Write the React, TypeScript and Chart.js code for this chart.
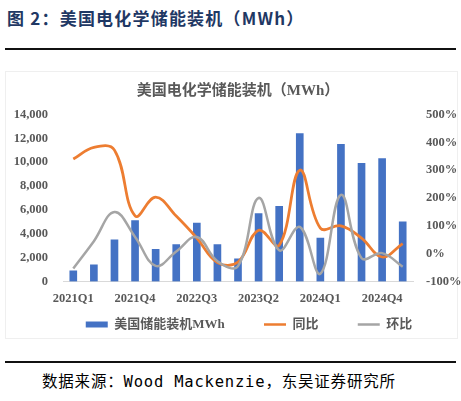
import React, { useEffect, useRef } from "react";
import { Chart, registerables } from "chart.js";

Chart.register(...registerables);

const categories = [
  "2021Q1", "2021Q2", "2021Q3", "2021Q4",
  "2022Q1", "2022Q2", "2022Q3", "2022Q4",
  "2023Q1", "2023Q2", "2023Q3", "2023Q4",
  "2024Q1", "2024Q2", "2024Q3", "2024Q4",
  "2025Q1",
];
const installs = [900, 1400, 3500, 5100, 2700, 3100, 4900, 3100, 1900, 5700, 6300, 12400, 3650, 11500, 9900, 10300, 5000];
const yoy = [340, 382, 372, 136, 203, 135, 56, -32, -30, 84, 30, 300, 92, 100, 56, -12, 36];
const qoq = [-53, 45, 150, 60, -44, 8, 60, -27, -45, 200, 12, 96, -72, 211, -16, 2, -47];
const leftTicks = { min: 0, max: 14000, step: 2000 };
const rightTicks = { min: -100, max: 500, step: 100 };
const seriesNames = ["美国储能装机MWh", "同比", "环比"];
const chartTitle = "美国电化学储能装机（MWh）";

const BLUE = "#4472C4";
const ORANGE = "#ED7D31";
const GRAY = "#A5A5A5";
const TEXT = "#595959";
const FONT = "'Liberation Serif', 'Times New Roman', 'Noto Sans CJK SC', serif";

function ChartBox() {
  const ref = useRef<HTMLCanvasElement | null>(null);
  useEffect(() => {
    if (!ref.current) return;
    const chart = new Chart(ref.current, {
      type: "bar",
      data: {
        labels: categories,
        datasets: [
          {
            type: "bar",
            label: seriesNames[0],
            data: installs,
            backgroundColor: BLUE,
            barThickness: 7,
            yAxisID: "y",
            order: 3,
          },
          {
            type: "line",
            label: seriesNames[1],
            data: yoy,
            borderColor: ORANGE,
            backgroundColor: ORANGE,
            borderWidth: 2.75,
            pointRadius: 0,
            tension: 0.4,
            yAxisID: "y1",
            order: 2,
          },
          {
            type: "line",
            label: seriesNames[2],
            data: qoq,
            borderColor: GRAY,
            backgroundColor: GRAY,
            borderWidth: 2.5,
            pointRadius: 0,
            tension: 0.4,
            yAxisID: "y1",
            order: 1,
          },
        ],
      } as any,
      options: {
        animation: false,
        responsive: true,
        maintainAspectRatio: false,
        layout: { padding: 0 },
        plugins: {
          tooltip: { enabled: false },
          title: {
            display: true,
            text: chartTitle,
            fullSize: false,
            color: TEXT,
            font: { family: FONT, size: 15, weight: "bold" },
            padding: { top: 11.5, bottom: 14 },
          },
          legend: {
            position: "bottom",
            labels: {
              usePointStyle: true,
              pointStyleWidth: 22,
              boxHeight: 6,
              padding: 10,
              color: TEXT,
              font: { family: FONT, size: 13, weight: "bold" },
              generateLabels: () => [
                {
                  text: seriesNames[0] + "\u3000\u3000 ",
                  fillStyle: BLUE,
                  strokeStyle: BLUE,
                  lineWidth: 0,
                  pointStyle: "rect",
                  hidden: false,
                  datasetIndex: 0,
                  fontColor: TEXT,
                },
                {
                  text: seriesNames[1] + "\u3000\u3000 ",
                  fillStyle: ORANGE,
                  strokeStyle: ORANGE,
                  lineWidth: 2.5,
                  pointStyle: "line",
                  hidden: false,
                  datasetIndex: 1,
                  fontColor: TEXT,
                },
                {
                  text: seriesNames[2],
                  fillStyle: GRAY,
                  strokeStyle: GRAY,
                  lineWidth: 2.5,
                  pointStyle: "line",
                  hidden: false,
                  datasetIndex: 2,
                  fontColor: TEXT,
                },
              ],
            },
          },
        },
        scales: {
          x: {
            grid: { display: false, drawTicks: false },
            border: { display: true, color: "#D9D9D9", width: 1 },
            ticks: {
              autoSkip: false,
              maxRotation: 0,
              minRotation: 0,
              padding: 9.5,
              color: TEXT,
              font: { family: FONT, size: 12.5, weight: "bold" },
              callback: (_v: any, i: number) => (i % 3 === 0 ? categories[i] : ""),
            },
            afterFit: (s: any) => {
              s.height = 26.5;
            },
          },
          y: {
            position: "left",
            min: leftTicks.min,
            max: leftTicks.max,
            grid: { display: false, drawTicks: false },
            border: { display: false },
            ticks: {
              stepSize: leftTicks.step,
              padding: 15,
              color: TEXT,
              font: { family: FONT, size: 12.5, weight: "bold" },
              callback: (v: any) => Number(v).toLocaleString("en-US"),
            },
            afterFit: (s: any) => {
              s.width = 57;
            },
          },
          y1: {
            position: "right",
            min: rightTicks.min,
            max: rightTicks.max,
            grid: { display: false, drawTicks: false },
            border: { display: false },
            ticks: {
              stepSize: rightTicks.step,
              padding: 13,
              color: TEXT,
              font: { family: FONT, size: 12.5, weight: "bold" },
              callback: (v: any) => v + "%",
            },
            afterFit: (s: any) => {
              s.width = 79;
            },
          },
        },
      } as any,
    });
    return () => chart.destroy();
  }, []);
  return (
    <div style={{ position: "absolute", left: 6, top: 71, width: 486, height: 270 }}>
      <canvas ref={ref} />
    </div>
  );
}

export default function App() {
  return (
    <div
      style={{
        position: "absolute",
        left: 0,
        top: 0,
        width: 461,
        height: 401,
        overflow: "hidden",
        background: "#fff",
      }}
    >
      <div
        style={{
          position: "absolute",
          left: 7,
          top: 7,
          lineHeight: "21px",
          fontSize: 17,
          fontWeight: 700,
          letterSpacing: 1.2,
          color: "#1F3864",
          fontFamily: "'Noto Sans CJK SC', sans-serif",
          whiteSpace: "nowrap",
        }}
      >
        图 2：美国电化学储能装机（MWh）
      </div>
      <div style={{ position: "absolute", left: 5, top: 48, width: 451, height: 2, background: "#111" }} />
      <div
        style={{
          position: "absolute",
          left: 5,
          top: 71,
          width: 451,
          height: 266,
          border: "1px solid #EFEFEF",
        }}
      />
      <ChartBox />
      <div style={{ position: "absolute", left: 5, top: 361, width: 451, height: 2, background: "#111" }} />
      <div
        style={{
          position: "absolute",
          left: 42,
          top: 370,
          lineHeight: "20px",
          fontSize: 15.5,
          color: "#000",
          fontFamily: "'Noto Sans CJK SC', sans-serif",
          whiteSpace: "nowrap",
          letterSpacing: 0.8,
        }}
      >
        数据来源：<span style={{ fontFamily: "'DejaVu Sans Mono', monospace" }}>Wood Mackenzie</span>，东吴证券研究所
      </div>
    </div>
  );
}
